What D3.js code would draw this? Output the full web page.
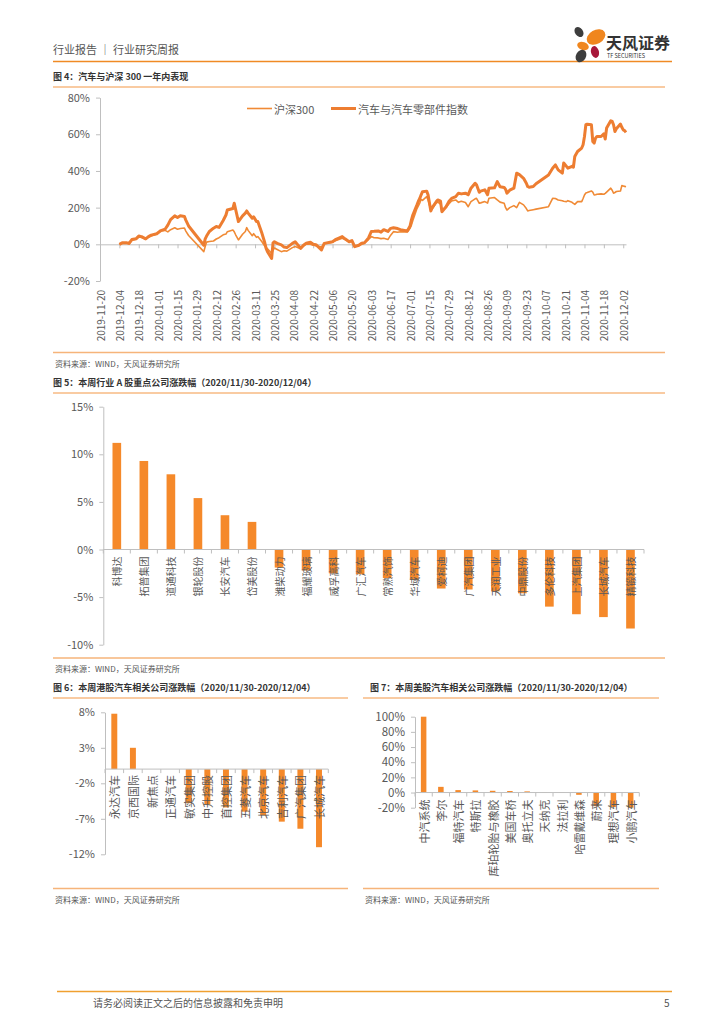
<!DOCTYPE html>
<html>
<head>
<meta charset="utf-8">
<script src="https://cdnjs.cloudflare.com/ajax/libs/d3/7.8.5/d3.min.js"></script>
<style>
body { margin: 0; background: #fff; }
text { font-family: "Noto Sans CJK SC", "Noto Sans", sans-serif; }
</style>
</head>
<body>
<div id="page"></div>
<script>
// ---------- data ----------
var tickLabels = ["2019-11-20","2019-12-04","2019-12-18","2020-01-01","2020-01-15","2020-01-29","2020-02-12",
  "2020-02-26","2020-03-11","2020-03-25","2020-04-08","2020-04-22","2020-05-06","2020-05-20","2020-06-03",
  "2020-06-17","2020-07-01","2020-07-15","2020-07-29","2020-08-12","2020-08-26","2020-09-09","2020-09-23",
  "2020-10-07","2020-10-21","2020-11-04","2020-11-18","2020-12-02"];

var dates = ["2019-12-04","2019-12-06","2019-12-09","2019-12-11","2019-12-13","2019-12-16","2019-12-18","2019-12-20",
  "2019-12-23","2019-12-25","2019-12-27","2019-12-31","2020-01-03","2020-01-06","2020-01-08","2020-01-10",
  "2020-01-13","2020-01-15","2020-01-17","2020-01-20","2020-01-21","2020-01-23","2020-02-03","2020-02-04",
  "2020-02-05","2020-02-07","2020-02-10","2020-02-12","2020-02-14","2020-02-17","2020-02-19","2020-02-20",
  "2020-02-24","2020-02-25","2020-02-26","2020-02-28","2020-03-02","2020-03-04","2020-03-05","2020-03-06",
  "2020-03-09","2020-03-10","2020-03-12","2020-03-13","2020-03-16","2020-03-18","2020-03-19","2020-03-20",
  "2020-03-23","2020-03-24","2020-03-25","2020-03-27","2020-03-30","2020-04-01","2020-04-03","2020-04-07",
  "2020-04-09","2020-04-13","2020-04-15","2020-04-17","2020-04-20","2020-04-22","2020-04-24","2020-04-28",
  "2020-04-30","2020-05-06","2020-05-08","2020-05-11","2020-05-13","2020-05-15","2020-05-18","2020-05-20",
  "2020-05-22","2020-05-25","2020-05-27","2020-05-29","2020-06-01","2020-06-03","2020-06-05","2020-06-08",
  "2020-06-10","2020-06-12","2020-06-15","2020-06-17","2020-06-19","2020-06-22","2020-06-24","2020-06-29",
  "2020-07-01","2020-07-02","2020-07-03","2020-07-06","2020-07-07","2020-07-08","2020-07-09","2020-07-10",
  "2020-07-13","2020-07-14","2020-07-16","2020-07-17","2020-07-20","2020-07-21","2020-07-23","2020-07-24",
  "2020-07-27","2020-07-29","2020-07-31","2020-08-03","2020-08-05","2020-08-07","2020-08-10","2020-08-12",
  "2020-08-14","2020-08-17","2020-08-18","2020-08-20","2020-08-21","2020-08-24","2020-08-26","2020-08-27",
  "2020-08-31","2020-09-02","2020-09-04","2020-09-07","2020-09-08","2020-09-09","2020-09-11","2020-09-14",
  "2020-09-16","2020-09-18","2020-09-21","2020-09-23","2020-09-24","2020-09-25","2020-09-28","2020-09-30",
  "2020-10-09","2020-10-12","2020-10-14","2020-10-16","2020-10-19","2020-10-20","2020-10-22","2020-10-23",
  "2020-10-26","2020-10-27","2020-10-28","2020-10-30","2020-11-02","2020-11-03","2020-11-04","2020-11-05",
  "2020-11-06","2020-11-09","2020-11-10","2020-11-11","2020-11-12","2020-11-13","2020-11-16","2020-11-18",
  "2020-11-19","2020-11-20","2020-11-23","2020-11-24","2020-11-25","2020-11-26","2020-11-27","2020-11-30",
  "2020-12-01","2020-12-02","2020-12-03","2020-12-04"];

// 汽车与汽车零部件指数 (%)
var autoIdx = [0.0,0.8,0.9,0.5,2.6,3.0,4.5,4.2,3.0,4.2,5.0,5.8,7.5,8.2,10.5,13.5,
  15.5,14.6,15.6,15.2,13.2,10.0,-0.5,3.0,4.5,7.0,8.8,9.7,9.2,13.0,16.0,18.7,
  19.5,22.4,19.0,12.4,15.5,17.0,18.2,17.0,14.2,15.0,12.5,12.4,6.0,1.0,-2.2,-4.0,
  -7.7,0.8,1.4,0.5,-0.3,-1.5,-1.8,0.5,1.4,-2.2,-0.5,0.6,1.1,0.0,-0.2,-3.1,
  0.5,1.4,2.5,3.5,4.2,3.0,1.4,2.0,-1.3,-0.5,0.6,0.8,3.5,7.0,7.1,7.3,
  6.6,8.0,7.0,8.7,9.0,8.6,8.0,7.3,10.0,13.3,16.0,21.5,23.5,25.0,27.0,28.7,
  29.0,27.0,18.2,20.0,23.3,24.2,23.5,17.8,20.5,23.3,25.0,26.0,27.9,27.5,27.9,27.0,
  30.6,33.3,32.5,28.4,29.0,29.7,27.0,30.6,30.8,34.2,31.4,31.0,30.0,27.9,29.5,30.6,
  38.8,38.0,36.0,33.3,31.5,31.1,31.5,33.0,37.8,41.5,43.3,40.6,38.8,44.3,42.5,41.5,
  42.5,42.0,47.9,50.6,52.5,54.3,58.8,65.2,65.5,65.2,56.1,55.2,57.9,58.8,58.8,60.3,
  57.4,63.4,67.4,67.0,65.2,61.5,63.0,65.6,63.8,62.4,62.0,61.0];

// 沪深300 (%)
var hs300 = [0.0,0.5,0.6,0.2,2.2,2.8,4.0,3.8,2.7,3.9,4.6,5.6,7.4,7.6,6.8,8.0,
  9.0,8.2,8.6,8.9,7.2,4.8,-4.0,-1.2,1.2,1.5,1.8,2.9,3.6,5.2,5.6,6.9,
  7.8,6.8,5.2,2.4,5.5,7.0,9.1,7.6,4.7,5.8,3.8,4.2,1.4,-1.0,-1.8,-2.4,
  -4.9,-3.2,-2.0,-2.8,-4.0,-3.5,-3.7,-1.8,-1.2,-2.4,-1.0,0.2,0.0,-0.5,-0.8,-1.5,
  0.3,1.2,2.0,2.8,3.3,2.6,1.4,1.8,-1.3,-0.6,0.0,0.6,2.6,4.2,3.6,3.5,
  3.1,3.3,2.6,5.0,6.9,6.6,6.9,6.7,8.8,10.5,13.0,19.5,21.0,22.5,24.5,24.0,
  26.0,24.2,18.7,19.2,22.8,23.0,22.0,19.0,20.0,22.0,23.6,24.2,22.9,23.5,22.8,20.5,
  23.3,24.8,25.1,22.4,22.6,23.3,22.5,25.1,25.5,24.2,23.0,22.4,20.0,18.7,20.0,21.1,
  20.0,22.9,21.5,19.5,18.2,18.4,18.9,19.2,20.5,25.1,25.0,24.2,23.8,23.5,23.3,23.8,
  22.9,22.3,21.8,23.3,23.3,25.0,26.9,28.0,28.2,29.1,28.5,26.9,27.0,27.3,27.5,27.3,
  27.8,28.5,30.6,29.5,27.9,28.2,28.8,29.1,32.0,31.8,31.6,31.4];

var aNames = ["科博达","拓普集团","道通科技","银轮股份","长安汽车","岱美股份","潍柴动力","福耀玻璃","威孚高科","广汇汽车",
  "常熟汽饰","华域汽车","爱柯迪","广汽集团","天润工业","中鼎股份","多伦科技","上汽集团","长城汽车","精锻科技"];
var aChg = [11.2,9.3,7.9,5.4,3.6,2.9,-1.9,-2.2,-2.5,-2.6,-3.0,-3.2,-4.1,-4.2,-4.4,-4.6,-6.0,-6.8,-7.1,-8.3];
var aTicks = [-10,-5,0,5,10,15];

var hkNames = ["永达汽车","京西国际","新焦点","正通汽车","敏实集团","中升控股","首控集团","五菱汽车","北京汽车","吉利汽车","广汽集团","长城汽车"];
var hkChg = [7.8,3.0,0,0,-4.8,-5.0,-5.4,-6.0,-6.5,-7.4,-8.4,-11.0];
var hkTicks = [-12,-7,-2,3,8];

var usNames = ["中汽系统","李尔","福特汽车","特斯拉","库珀轮胎与橡胶","美国车桥","奥托立夫","天纳克","法拉利","哈雷戴维森","蔚来","理想汽车","小鹏汽车"];
var usChg = [100,7.5,3.2,2.8,2.3,2.0,1.5,0.5,-0.5,-3.0,-18,-19,-20];
var usTicks = [-20,0,20,40,60,80,100];

// ---------- page ----------
var orange = "#ED7D31";
var barColor = "#F5892A";
var axisColor = "#bfbfbf";
var textColor = "#595959";
var parseDate = d3.timeParse("%Y-%m-%d");

var svg = d3.select("#page").append("svg")
  .attr("width", 724)
  .attr("height", 1024);

// header
svg.append("text").attr("x", 53).attr("y", 54).attr("font-size", 11).attr("fill", "#555")
  .text("行业报告 ｜ 行业研究周报");
svg.append("line").attr("x1", 53).attr("x2", 672).attr("y1", 61.5).attr("y2", 61.5)
  .attr("stroke", "#F08A24").attr("stroke-width", 1.5);

// logo
var logo = svg.append("g");
logo.append("ellipse").attr("cx", 579).attr("cy", 32).attr("rx", 4).attr("ry", 5.5)
  .attr("transform", "rotate(-35,579,32)").attr("fill", "#3d3d3d");
logo.append("ellipse").attr("cx", 596).attr("cy", 37).attr("rx", 10).attr("ry", 7)
  .attr("transform", "rotate(-30,596,37)").attr("fill", "#F0861E");
logo.append("ellipse").attr("cx", 583).attr("cy", 46).attr("rx", 6).attr("ry", 4)
  .attr("transform", "rotate(20,583,46)").attr("fill", "#F0861E");
logo.append("ellipse").attr("cx", 595).attr("cy", 52).attr("rx", 4).attr("ry", 6)
  .attr("transform", "rotate(-15,595,52)").attr("fill", "#A8173A");
logo.append("ellipse").attr("cx", 581).attr("cy", 56).attr("rx", 5).attr("ry", 6.5)
  .attr("transform", "rotate(30,581,56)").attr("fill", "#3d3d3d");
logo.append("text").attr("x", 606).attr("y", 49).attr("font-size", 16).attr("font-weight", "bold")
  .attr("fill", "#333").text("天风证券");
logo.append("text").attr("x", 607).attr("y", 58).attr("font-size", 5.5).attr("fill", "#333")
  .text("TF SECURITIES");

function figTitle(x, lineX, y, w, label) {
  svg.append("text").attr("x", x).attr("y", y).attr("font-size", 9).attr("font-weight", "bold")
    .attr("fill", "#333").text(label);
  svg.append("line").attr("x1", lineX).attr("x2", lineX + w).attr("y1", y + 7).attr("y2", y + 7)
    .attr("stroke", "#F9CBA2").attr("stroke-width", 2);
}
function figSource(x, y, w) {
  svg.append("line").attr("x1", x).attr("x2", x + w).attr("y1", y).attr("y2", y)
    .attr("stroke", "#F6B47A").attr("stroke-width", 1.5);
  svg.append("text").attr("x", x + 2).attr("y", y + 14).attr("font-size", 8).attr("fill", "#555")
    .text("资料来源：WIND，天风证券研究所");
}
function styleAxis(s, size) {
  s.select(".domain").attr("stroke", axisColor);
  s.selectAll(".tick line").attr("stroke", axisColor);
  s.selectAll(".tick text").attr("fill", textColor).attr("font-size", size);
}

// ---------- figure 4: line chart ----------
figTitle(53, 53, 80, 612, "图 4：汽车与沪深 300 一年内表现");

var xLine = d3.scaleTime()
  .domain([parseDate("2019-11-20"), parseDate("2020-12-04")])
  .range([100, 626]);
var yLine = d3.scaleLinear().domain([-20, 80]).range([281, 97.6]);

svg.append("g").attr("transform", "translate(100,0)")
  .call(d3.axisLeft(yLine).tickValues([-20, 0, 20, 40, 60, 80]).tickSize(4).tickSizeOuter(0)
    .tickPadding(6).tickFormat(d => d + "%"))
  .call(s => styleAxis(s, 11));

var tickDates = tickLabels.map(parseDate);
svg.append("g").attr("transform", `translate(0,${yLine(0)})`)
  .call(d3.axisBottom(xLine).tickValues(tickDates).tickSize(4).tickSizeOuter(0).tickFormat(""))
  .call(s => styleAxis(s, 10));

svg.append("g").selectAll("text").data(tickLabels).enter().append("text")
  .attr("transform", d => `translate(${xLine(parseDate(d))},290) rotate(-90)`)
  .attr("text-anchor", "end")
  .attr("dominant-baseline", "central")
  .attr("font-size", 10)
  .attr("fill", textColor)
  .text(d => d);

var lineData = dates.map((d, i) => ({ date: parseDate(d), auto: autoIdx[i], hs: hs300[i] }));
var hsLine = d3.line().x(d => xLine(d.date)).y(d => yLine(d.hs));
var autoLine = d3.line().x(d => xLine(d.date)).y(d => yLine(d.auto));

svg.append("path").datum(lineData).attr("d", hsLine)
  .attr("fill", "none").attr("stroke", "#F08A35").attr("stroke-width", 1.6).attr("stroke-linejoin", "round");
svg.append("path").datum(lineData).attr("d", autoLine)
  .attr("fill", "none").attr("stroke", orange).attr("stroke-width", 3).attr("stroke-linejoin", "round");

// legend
svg.append("line").attr("x1", 247).attr("x2", 272).attr("y1", 108.5).attr("y2", 108.5)
  .attr("stroke", "#F08A35").attr("stroke-width", 1.6);
svg.append("text").attr("x", 274).attr("y", 108.5).attr("dominant-baseline", "central")
  .attr("font-size", 11).attr("fill", textColor).text("沪深300");
svg.append("line").attr("x1", 331).attr("x2", 356).attr("y1", 108.5).attr("y2", 108.5)
  .attr("stroke", orange).attr("stroke-width", 3);
svg.append("text").attr("x", 358).attr("y", 108.5).attr("dominant-baseline", "central")
  .attr("font-size", 11).attr("fill", textColor).text("汽车与汽车零部件指数");

figSource(53, 352.5, 612);

// ---------- bar charts ----------
function barChart(o) {
  var xb = d3.scaleBand().domain(o.names).range([o.left, o.right]).paddingInner(0.68).paddingOuter(0.34);
  var yb = d3.scaleLinear().domain(o.domain).range([o.bottom, o.top]);
  var g = svg.append("g");

  g.append("g").attr("transform", `translate(${o.left},0)`)
    .call(d3.axisLeft(yb).tickValues(o.ticks).tickSize(4).tickSizeOuter(0).tickPadding(6)
      .tickFormat(d => d + "%"))
    .call(s => styleAxis(s, o.tickFont));

  g.selectAll("rect").data(o.vals).enter().append("rect")
    .attr("x", (d, i) => xb(o.names[i]))
    .attr("y", d => yb(Math.max(0, d)))
    .attr("width", xb.bandwidth())
    .attr("height", d => Math.abs(yb(d) - yb(0)))
    .attr("fill", barColor);

  // category axis at zero with boundary ticks
  var y0 = yb(0);
  g.append("line").attr("x1", o.left).attr("x2", o.right).attr("y1", y0).attr("y2", y0)
    .attr("stroke", axisColor);
  g.selectAll(".ctick").data(d3.range(o.names.length + 1)).enter().append("line")
    .attr("x1", i => o.left + i * xb.step()).attr("x2", i => o.left + i * xb.step())
    .attr("y1", y0).attr("y2", y0 + 4)
    .attr("stroke", axisColor);

  g.selectAll(".clabel").data(o.names).enter().append("text")
    .attr("transform", d => `translate(${xb(d) + xb.bandwidth() / 2},${y0 + o.labelGap}) rotate(-90)`)
    .attr("text-anchor", "end")
    .attr("dominant-baseline", "central")
    .attr("font-size", o.labelFont)
    .attr("fill", textColor)
    .text(d => d);
}

// figure 5
figTitle(53, 53, 386, 612, "图 5：本周行业 A 股重点公司涨跌幅（2020/11/30-2020/12/04）");
barChart({ names: aNames, vals: aChg, ticks: aTicks, domain: [-10, 15],
  left: 103.3, right: 644, top: 406.7, bottom: 644.7, tickFont: 11, labelFont: 10, labelGap: 7 });
figSource(53, 658, 612);

// figure 6
figTitle(53, 53, 691, 295, "图 6：本周港股汽车相关公司涨跌幅（2020/11/30-2020/12/04）");
barChart({ names: hkNames, vals: hkChg, ticks: hkTicks, domain: [-12, 8],
  left: 105, right: 328.3, top: 712.3, bottom: 854.3, tickFont: 11, labelFont: 11, labelGap: 6 });
figSource(53, 888.5, 295);

// figure 7
figTitle(370, 363, 691, 296, "图 7：本周美股汽车相关公司涨跌幅（2020/11/30-2020/12/04）");
barChart({ names: usNames, vals: usChg, ticks: usTicks, domain: [-20, 100],
  left: 415, right: 639.3, top: 716.7, bottom: 807.7, tickFont: 11.5, labelFont: 11, labelGap: 7 });
figSource(363, 888.5, 296);

// footer
svg.append("line").attr("x1", 57).attr("x2", 672).attr("y1", 991.5).attr("y2", 991.5)
  .attr("stroke", "#F0A030").attr("stroke-width", 1.5);
svg.append("text").attr("x", 93).attr("y", 1007).attr("font-size", 10).attr("fill", "#555")
  .text("请务必阅读正文之后的信息披露和免责申明");
svg.append("text").attr("x", 664).attr("y", 1007).attr("font-size", 10).attr("fill", "#555")
  .text("5");
</script>
</body>
</html>
